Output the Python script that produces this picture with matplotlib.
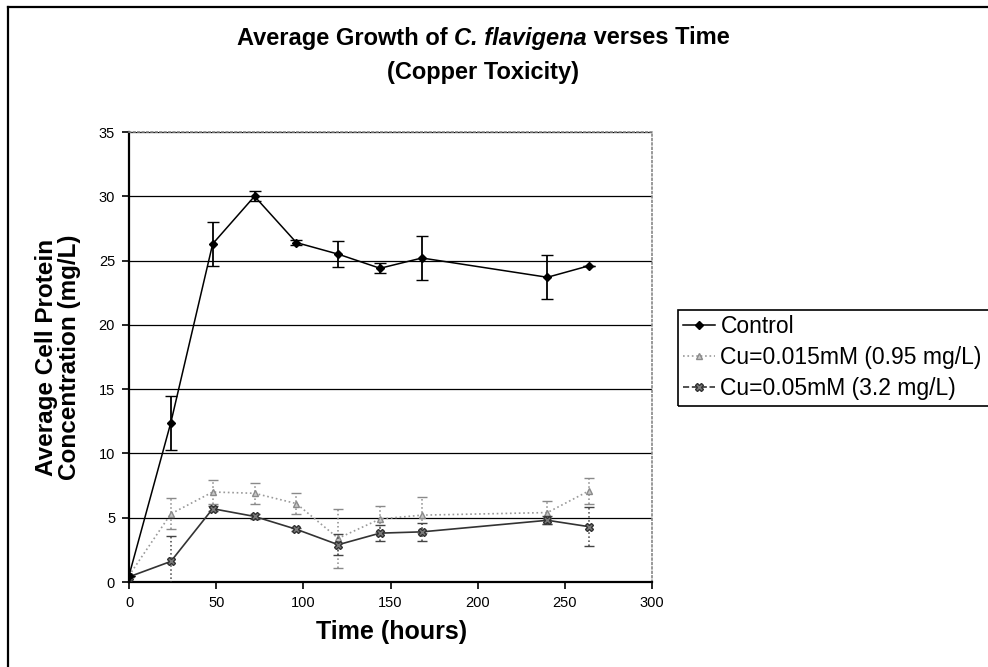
import matplotlib
matplotlib.use("Agg")
import matplotlib.pyplot as plt
from matplotlib.lines import Line2D
from matplotlib.patches import Rectangle

plt.rcParams["font.family"] = ["Liberation Sans", "DejaVu Sans"]

# data
hours = [0, 24, 48, 72, 96, 120, 144, 168, 240, 264]
control = [0.5, 12.4, 26.3, 30.0, 26.4, 25.5, 24.4, 25.2, 23.7, 24.6]
control_err = [0.0, 2.1, 1.7, 0.4, 0.2, 1.0, 0.4, 1.7, 1.7, 0.0]
cu015 = [0.5, 5.3, 7.0, 6.9, 6.1, 3.4, 4.9, 5.2, 5.4, 7.1]
cu015_err = [0.0, 1.2, 0.9, 0.8, 0.8, 2.3, 1.0, 1.4, 0.9, 1.0]
cu05 = [0.4, 1.6, 5.7, 5.1, 4.1, 2.9, 3.8, 3.9, 4.8, 4.3]
cu05_err = [0.0, 2.0, 0.2, 0.2, 0.1, 0.8, 0.6, 0.7, 0.3, 1.5]
labels = ["Control", "Cu=0.015mM (0.95 mg/L)", "Cu=0.05mM (3.2 mg/L)"]

W, H = 988, 667
fig = plt.figure(figsize=(W / 100, H / 100), dpi=100)
ax = fig.add_axes([129 / W, 1 - 582 / H, (652 - 129) / W, (582 - 132) / H])

# scanned page frame (left and top edges only)
fig.add_artist(Line2D([8 / W, 8 / W], [0, 1 - 7 / H], color="black", lw=1.6))
fig.add_artist(Line2D([8 / W, 1], [1 - 7 / H, 1 - 7 / H], color="black", lw=1.6))

eb1 = ax.errorbar(hours, cu015, yerr=cu015_err, color="#9a9a9a", ls=":", lw=1.2,
                  marker="^", ms=5, mfc="#c8c8c8", mec="#8a8a8a",
                  ecolor="#8a8a8a", elinewidth=1.1, capsize=3.5, zorder=3)
eb2 = ax.errorbar(hours, cu05, yerr=cu05_err, color="#333333", ls="-", lw=1.2,
                  marker="X", ms=6, mfc="#7a7a7a", mec="#333333",
                  ecolor="#444444", elinewidth=1.1, capsize=3.5, zorder=4)
for eb in (eb1, eb2):
    for c in eb.lines[2]:
        c.set_linestyle(":")
ax.errorbar(hours, control, yerr=control_err, color="black", ls="-", lw=1.1,
            marker="D", ms=4.5, mfc="black", mec="black",
            ecolor="black", elinewidth=1.3, capsize=4, zorder=5)

ax.set_xlim(0, 300)
ax.set_ylim(0, 35)
ax.set_xticks(range(0, 301, 50))
ax.set_yticks(range(0, 36, 5))
ax.tick_params(labelsize=10.5, direction="out", length=5, width=1.2, pad=5)
ax.yaxis.grid(True, color="black", lw=0.9)
ax.set_axisbelow(True)
for s in ("top", "right"):
    ax.spines[s].set_color("#888888")
    ax.spines[s].set_linestyle(":")
    ax.spines[s].set_linewidth(1.2)
for s in ("left", "bottom"):
    ax.spines[s].set_linewidth(1.6)

fig.text(392 / W, 1 - 632 / H, "Time (hours)", fontsize=18,
         fontweight="bold", ha="center", va="center")
fig.text(58 / W, 1 - 357 / H, "Average Cell Protein\nConcentration (mg/L)",
         fontsize=17.5, fontweight="bold", rotation=90, ha="center",
         va="center", multialignment="center", linespacing=1.05)

# title line 1: plain / italic / plain pieces laid side by side
pieces = [("Average Growth of ", "normal"), ("C. flavigena", "italic"),
          (" verses Time", "normal")]
renderer = fig.canvas.get_renderer()
texts, widths = [], []
for s, style in pieces:
    t = fig.text(0, 1 - 38 / H, s, fontsize=17, fontweight="bold",
                 style=style, va="center", ha="left")
    texts.append(t)
    widths.append(t.get_window_extent(renderer).width)
x = 483 - sum(widths) / 2
for t, w in zip(texts, widths):
    t.set_x(x / W)
    x += w
fig.text(483 / W, 1 - 72 / H, "(Copper Toxicity)", fontsize=17,
         fontweight="bold", ha="center", va="center")

handles = [
    Line2D([], [], color="black", lw=1.1, marker="D", ms=4.5),
    Line2D([], [], color="#9a9a9a", ls=":", lw=1.2, marker="^", ms=5,
           mfc="#c8c8c8", mec="#8a8a8a"),
    Line2D([], [], color="#333333", ls="--", lw=1.2, marker="X", ms=6,
           mfc="#7a7a7a", mec="#333333"),
]
fig.legend(handles, labels, loc="upper left",
           bbox_to_anchor=(678 / W, 1 - 310 / H), fontsize=16.5,
           frameon=False, handlelength=1.4, handletextpad=0.25,
           borderpad=0.2, labelspacing=0.35, borderaxespad=0)
# legend box runs off the right edge of the scan
fig.add_artist(Rectangle((678 / W, 1 - 406 / H), 0.5, 96 / H, fill=False,
                         ec="black", lw=1.2, transform=fig.transFigure))

fig.savefig("out.png", dpi=100, facecolor="white")
